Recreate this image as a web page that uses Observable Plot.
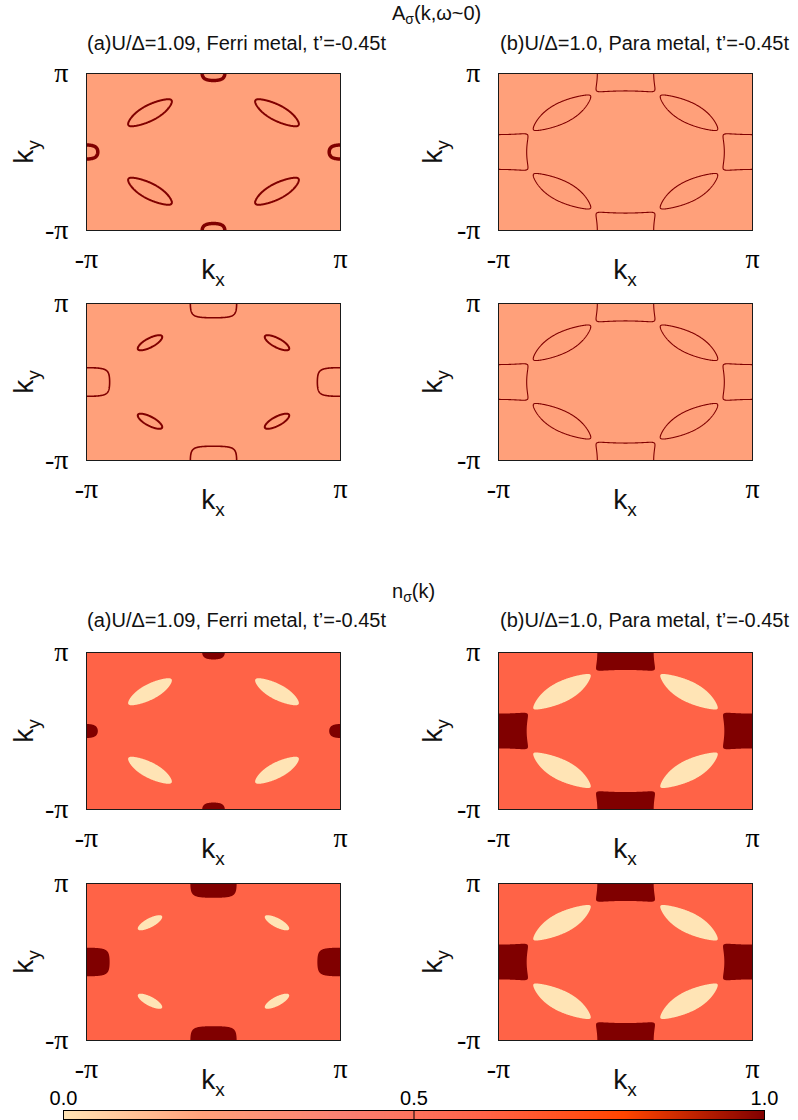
<!DOCTYPE html>
<html>
<head>
<meta charset="utf-8">
<script src="https://cdn.jsdelivr.net/npm/d3@7"></script>
<script src="https://cdn.jsdelivr.net/npm/@observablehq/plot@0.6"></script>
<style>
  body { margin: 0; background: #fff; }
  #root { position: relative; width: 798px; height: 1120px; overflow: hidden;
          font-family: "Liberation Sans", Arial, sans-serif; color: #111; }
  .lbl { position: absolute; white-space: nowrap; line-height: 1; }
  .t20 { font-size: 20px; }
  .k { font-size: 28px; }
  .k .s { font-size: 19px; position: relative; top: 7px; }
  sub { font-size: 0.7em; vertical-align: -0.25em; }
</style>
</head>
<body>
<div id="root"></div>
<script>
const PI = Math.PI;

// ---------------- data ----------------
// Tight-binding band model per spin case (read/fitted from the picture)
const caseNames   = ["Ferri metal, spin 1", "Ferri metal, spin 2", "Para metal"];
const hopT        = [1, 1, 1];
const hopTp       = [-0.45, -0.45, -0.45];
const gapDelta    = [0.30, 0.50, 0.15];
const muHole      = [-0.744, -0.642, -0.89];
const muElectron  = [-1.42, -0.92, -0.89];

// which case each of the 8 panels shows, and which quantity
const panelQuantity = ["A", "A", "A", "A", "n", "n", "n", "n"];
const panelCase     = [0, 2, 1, 2, 0, 2, 1, 2];

// colour-scale values of the plotted quantities
const levelsA = [0.2, 1.0];          // background, Fermi-surface line
const levelsN = [0.0, 0.6, 1.0];     // hole pocket, background, electron pocket

// ticks and labels
const kTicks     = [-PI, PI];
const kTickText  = ["-π", "π"];
const cbStops    = [0, 0.2, 0.4, 0.6, 0.8, 1.0];
const cbColors   = ["#ffe4b5", "#ffa07a", "#fa8072", "#ff6347", "#ff4500", "#800000"];
const cbTicks    = [0, 0.5, 1];
const cbDivider  = [0.5];
const panelTitles   = ["(a)U/Δ=1.09, Ferri metal, t’=-0.45t", "(b)U/Δ=1.0, Para metal, t’=-0.45t"];
const sectionTitles = ["A<sub>σ</sub>(k,ω~0)", "n<sub>σ</sub>(k)"];

// ---------------- layout / style ----------------
const colLeft   = [0, 400];
const svgWidth  = [400, 398];
const frameLeft = [86, 98];
const frameW = 254, frameH = 157;
const rowTop = [73, 303, 652, 883];
const holeStroke = [2.0, 2.0, 1.1];
const elecStroke = [3.5, 1.6, 1.1];
const kyOffset = [62, 65];

const colorCfg = {type: "linear", domain: cbStops, range: cbColors, interpolate: "rgb"};
const cscale = Plot.scale({color: colorCfg});
const col = v => cscale.apply(v);

function bands(c, kx, ky) {
  const cx = Math.cos(kx), cy = Math.cos(ky);
  const eps = -2 * hopT[c] * (cx + cy);
  const epsp = -4 * hopTp[c] * cx * cy;
  const r = Math.sqrt(eps * eps + gapDelta[c] * gapDelta[c]);
  return [epsp - r, epsp + r];
}

const root = document.getElementById("root");
function addLabel(html, left, top, cls, extra) {
  const d = document.createElement("div");
  d.className = "lbl " + cls;
  d.innerHTML = html;
  d.style.left = left + "px";
  d.style.top = top + "px";
  if (extra) Object.assign(d.style, extra);
  root.appendChild(d);
  return d;
}

const tickFmt = d => kTickText[kTicks.indexOf(d)];

for (let p = 0; p < 8; p++) {
  const row = Math.floor(p / 2), ci = p % 2;
  const c = panelCase[p], q = panelQuantity[p];
  const ml = frameLeft[ci], w = svgWidth[ci], mr = w - ml - frameW;
  const mt = 20, mb = 40;
  const grid = {x1: -PI - 0.25, x2: PI + 0.25, y1: -PI - 0.25, y2: PI + 0.25,
                thresholds: [0], pixelSize: 0.5, clip: true};
  const hole = (x, y) => bands(c, x, y)[0] - muHole[c];
  const elec = (x, y) => muElectron[c] - bands(c, x, y)[1];
  const marks = [];
  if (q === "A") {
    marks.push(Plot.frame({fill: col(levelsA[0]), stroke: "none"}));
    marks.push(Plot.contour({...grid, value: hole, fill: "none", stroke: col(levelsA[1]), strokeWidth: holeStroke[c]}));
    marks.push(Plot.contour({...grid, value: elec, fill: "none", stroke: col(levelsA[1]), strokeWidth: elecStroke[c]}));
  } else {
    marks.push(Plot.frame({fill: col(levelsN[1]), stroke: "none"}));
    marks.push(Plot.contour({...grid, value: hole, fill: col(levelsN[0]), stroke: "none"}));
    marks.push(Plot.contour({...grid, value: elec, fill: col(levelsN[2]), stroke: "none"}));
  }
  marks.push(Plot.frame({stroke: "#1a1a1a", strokeWidth: 1}));
  marks.push(Plot.axisX(kTicks, {tickFormat: tickFmt, tickSize: 0, tickPadding: 18, fontSize: 28,
                                 fontFamily: "Liberation Serif", fill: "#000", label: null}));
  marks.push(Plot.axisY(kTicks, {tickFormat: tickFmt, tickSize: 0, tickPadding: 18, fontSize: 28,
                                 fontFamily: "Liberation Serif", fill: "#000", label: null}));
  const svg = Plot.plot({
    width: w, height: mt + frameH + mb,
    marginLeft: ml, marginRight: mr, marginTop: mt, marginBottom: mb,
    x: {domain: [-PI, PI]}, y: {domain: [-PI, PI]},
    style: {overflow: "visible", background: "transparent"},
    marks
  });
  svg.style.position = "absolute";
  svg.style.left = colLeft[ci] + "px";
  svg.style.top = (rowTop[row] - mt) + "px";
  root.appendChild(svg);

  const fl = colLeft[ci] + ml;
  // k_x label
  const kx = addLabel('k<span class="s">x</span>', fl + frameW / 2, rowTop[row] + frameH + 26, "k",
                      {transform: "translateX(-50%)"});
  // k_y label (rotated)
  addLabel('k<span class="s">y</span>', fl - kyOffset[ci], rowTop[row] + frameH / 2, "k",
           {transform: "translate(-50%,-50%) rotate(-90deg)"});
}

// titles
addLabel(sectionTitles[0], 392, 3, "t20");
addLabel(sectionTitles[1], 392, 581, "t20");
addLabel(panelTitles[0], 87, 33, "t20");
addLabel(panelTitles[1], 500, 33, "t20");
addLabel(panelTitles[0], 87, 610, "t20");
addLabel(panelTitles[1], 500, 610, "t20");

// colour bar
const cb = Plot.plot({
  width: 798, height: 40, marginLeft: 63, marginRight: 34, marginTop: 30, marginBottom: 1,
  x: {domain: [0, 1]}, y: {domain: [0, 1], axis: null},
  color: colorCfg,
  style: {overflow: "visible", background: "transparent"},
  marks: [
    Plot.raster({fill: (x, y) => x, x1: 0, x2: 1, y1: 0, y2: 1}),
    Plot.ruleX(cbDivider, {stroke: "#000", strokeWidth: 1}),
    Plot.frame({stroke: "#000"}),
    Plot.axisX(cbTicks, {anchor: "top", tickFormat: d3.format(".1f"), tickSize: 0, tickPadding: 6,
                         fontSize: 20, fontFamily: "Liberation Sans", fill: "#000", label: null})
  ]
});
cb.style.position = "absolute";
cb.style.left = "0px";
cb.style.top = "1080px";
root.appendChild(cb);
</script>
</body>
</html>
